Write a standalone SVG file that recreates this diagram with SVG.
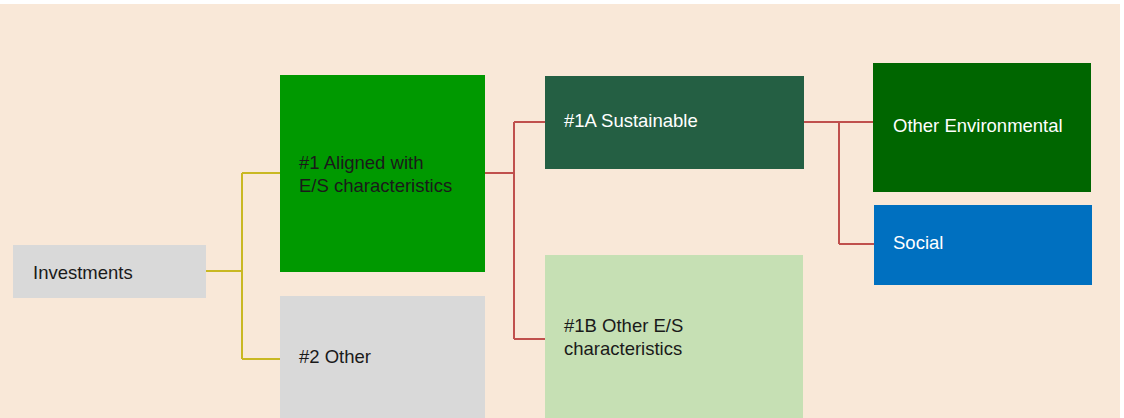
<svg xmlns="http://www.w3.org/2000/svg" width="1124" height="418" viewBox="0 0 1124 418">
<style>
text{font-family:"Liberation Sans",Arial,sans-serif;font-size:18.5px}
.dk{fill:#1a1a1a}
.wt{fill:#ffffff}
.y{fill:none;stroke:#c9b822;stroke-width:2}
.r{fill:none;stroke:#c0504d;stroke-width:2}
</style>
<rect x="0" y="0" width="1124" height="418" fill="#ffffff"/>
<rect x="0" y="4" width="1120" height="414" fill="#f9e8d8"/>
<g id="connectors">
<path class="y" d="M206 271H242M242 173V359M242 173H280M242 359H280"/>
<path class="r" d="M485 173H514M514 122V339M514 122H545M514 339H545"/>
<path class="r" d="M804 122H873M839 122V244M839 244H874"/>
</g>
<g id="investments">
<rect x="13" y="245" width="193" height="53" fill="#d9d9d9"/>
<text class="dk" x="33" y="279">Investments</text>
</g>
<g id="aligned">
<rect x="280" y="75" width="205" height="197" fill="#009900"/>
<text class="dk" x="299" y="169">#1 Aligned with</text>
<text class="dk" x="299" y="192">E/S characteristics</text>
</g>
<g id="other">
<rect x="280" y="296" width="205" height="122" fill="#d9d9d9"/>
<text class="dk" x="299" y="363">#2 Other</text>
</g>
<g id="sustainable">
<rect x="545" y="76" width="259" height="93" fill="#245f43"/>
<text class="wt" x="564" y="127">#1A Sustainable</text>
</g>
<g id="otherES">
<rect x="545" y="255" width="258" height="163" fill="#c6e0b4"/>
<text class="dk" x="564" y="332">#1B Other E/S</text>
<text class="dk" x="564" y="355">characteristics</text>
</g>
<g id="environmental">
<rect x="873" y="63" width="218" height="129" fill="#006600"/>
<text class="wt" x="893" y="132">Other Environmental</text>
</g>
<g id="social">
<rect x="874" y="205" width="218" height="80" fill="#0070c0"/>
<text class="wt" x="893" y="249">Social</text>
</g>
</svg>
